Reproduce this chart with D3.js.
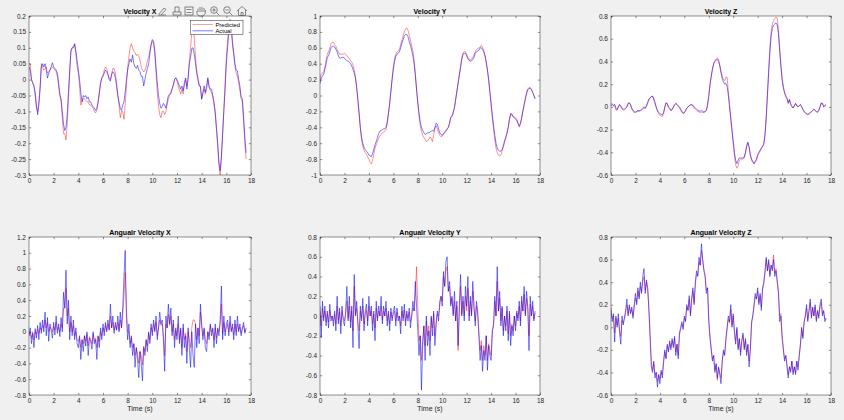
<!DOCTYPE html>
<html>
<head>
<meta charset="utf-8">
<script src="https://cdn.jsdelivr.net/npm/d3@7"></script>
<style>
  body { margin: 0; background: #f0f0f0; }
  svg { display: block; font-family: "Liberation Sans", Arial, sans-serif; }
</style>
</head>
<body>
<svg id="fig" width="844" height="420"></svg>
<script>
// Tempo de amostragem: 0 a 17.6 s, passo 0.1 s
const time = d3.range(177).map(i => i / 10);

// Velocity X
const velXPred = [
  0.05, 0.05, 0.00, -0.01, -0.02, -0.05, -0.09, -0.10, -0.07, -0.02,
  0.05, 0.04, 0.03, 0.035, 0.04, 0.02, 0.025, 0.03, 0.035, 0.04,
  0.035, 0.03, 0.025, 0.01, -0.02, -0.05, -0.07, -0.12, -0.17, -0.17,
  -0.19, -0.14, -0.06, 0.02, 0.09, 0.10, 0.105, 0.11, 0.08, 0.04,
  0.02, -0.02, -0.08, -0.07, -0.06, -0.06, -0.065, -0.07, -0.07, -0.08,
  -0.08, -0.085, -0.09, -0.10, -0.105, -0.095, -0.075, -0.045, -0.015, 0.005,
  0.015, 0.03, 0.04, 0.035, 0.02, 0.005, 0.00, 0.02, 0.035, 0.035,
  0.02, -0.01, -0.05, -0.08, -0.12, -0.10, -0.10, -0.125, -0.08, -0.02,
  0.04, 0.07, 0.10, 0.113, 0.10, 0.09, 0.085, 0.075, 0.08, 0.075,
  0.06, 0.04, 0.03, 0.024, 0.03, 0.04, 0.06, 0.07, 0.09, 0.11,
  0.12, 0.115, 0.08, 0.02, -0.04, -0.08, -0.11, -0.12, -0.10, -0.10,
  -0.11, -0.10, -0.08, -0.06, -0.05, -0.045, -0.03, -0.02, 0.00, 0.005,
  -0.005, -0.02, -0.035, -0.045, -0.03, -0.045, -0.02, 0.00, -0.02, 0.01,
  0.06, 0.10, 0.15, 0.17, 0.13, 0.07, 0.03, 0.005, -0.015, -0.025,
  -0.06, -0.045, -0.03, -0.045, -0.03, 0.00, -0.025, -0.035, -0.04, -0.055,
  -0.08, -0.11, -0.16, -0.21, -0.27, -0.30, -0.25, -0.17, -0.09, -0.01,
  0.07, 0.12, 0.16, 0.19, 0.17, 0.12, 0.08, 0.04, 0.02, 0.01,
  -0.01, -0.035, -0.06, -0.07, -0.13, -0.20, -0.25
];
const velXAct = [
  0.04, 0.03, 0.00, -0.01, -0.02, -0.04, -0.08, -0.11, -0.08, -0.03,
  0.04, 0.05, 0.04, 0.05, 0.03, 0.005, 0.02, 0.03, 0.04, 0.053,
  0.04, 0.035, 0.03, 0.02, -0.01, -0.045, -0.06, -0.10, -0.14, -0.16,
  -0.15, -0.11, -0.04, 0.03, 0.09, 0.10, 0.10, 0.113, 0.09, 0.06,
  0.03, 0.00, -0.04, -0.07, -0.05, -0.055, -0.05, -0.06, -0.055, -0.07,
  -0.07, -0.08, -0.085, -0.09, -0.097, -0.09, -0.07, -0.04, -0.01, 0.005,
  0.01, 0.02, 0.03, 0.025, 0.015, 0.00, -0.005, 0.015, 0.025, 0.02,
  0.005, -0.02, -0.05, -0.07, -0.09, -0.097, -0.08, -0.07, -0.04, 0.00,
  0.03, 0.05, 0.065, 0.055, 0.077, 0.05, 0.04, 0.035, 0.045, 0.03,
  0.025, 0.01, 0.01, -0.02, 0.00, 0.02, 0.035, 0.05, 0.08, 0.11,
  0.126, 0.12, 0.09, 0.04, -0.01, -0.05, -0.075, -0.09, -0.085, -0.075,
  -0.08, -0.09, -0.07, -0.05, -0.047, -0.04, -0.03, -0.015, 0.00, 0.006,
  0.00, -0.01, -0.02, -0.03, -0.02, -0.035, -0.01, 0.005, -0.03, 0.00,
  0.05, 0.07, 0.098, 0.10, 0.08, 0.05, 0.02, 0.00, -0.02, -0.02,
  -0.062, -0.04, -0.02, -0.04, -0.02, 0.006, -0.02, -0.03, -0.03, -0.05,
  -0.07, -0.10, -0.15, -0.20, -0.26, -0.286, -0.24, -0.17, -0.10, -0.03,
  0.05, 0.10, 0.15, 0.18, 0.16, 0.11, 0.082, 0.05, 0.03, 0.027,
  0.00, -0.02, -0.055, -0.06, -0.12, -0.18, -0.23
];

// Velocity Y
const velYPred = [
  0.20, 0.27, 0.28, 0.30, 0.36, 0.44, 0.52, 0.55, 0.60, 0.65,
  0.67, 0.67, 0.64, 0.62, 0.58, 0.55, 0.52, 0.52, 0.52, 0.52,
  0.53, 0.52, 0.50, 0.48, 0.46, 0.44, 0.42, 0.38, 0.32, 0.24,
  0.10, -0.06, -0.24, -0.42, -0.56, -0.64, -0.69, -0.72, -0.74, -0.77,
  -0.80, -0.84, -0.86, -0.82, -0.74, -0.66, -0.62, -0.58, -0.54, -0.51,
  -0.49, -0.47, -0.46, -0.45, -0.43, -0.36, -0.24, -0.10, 0.06, 0.22,
  0.36, 0.46, 0.52, 0.55, 0.56, 0.58, 0.64, 0.70, 0.75, 0.80,
  0.84, 0.85, 0.82, 0.76, 0.70, 0.62, 0.56, 0.45, 0.28, 0.08,
  -0.10, -0.25, -0.38, -0.45, -0.50, -0.53, -0.55, -0.58, -0.57, -0.55,
  -0.52, -0.54, -0.58, -0.50, -0.42, -0.38, -0.42, -0.47, -0.50, -0.52,
  -0.51, -0.49, -0.47, -0.45, -0.43, -0.40, -0.35, -0.27, -0.26, -0.20,
  -0.16, -0.05, 0.06, 0.17, 0.27, 0.37, 0.47, 0.54, 0.55, 0.55,
  0.52, 0.48, 0.45, 0.44, 0.46, 0.48, 0.51, 0.55, 0.58, 0.59,
  0.60, 0.61, 0.63, 0.61, 0.56, 0.50, 0.42, 0.32, 0.19, 0.04,
  -0.12, -0.28, -0.42, -0.55, -0.66, -0.72, -0.75, -0.76, -0.75, -0.70,
  -0.65, -0.59, -0.54, -0.48, -0.40, -0.30, -0.23, -0.23, -0.26, -0.27,
  -0.28, -0.30, -0.35, -0.40, -0.36, -0.28, -0.19, -0.11, -0.03, 0.04,
  0.08, 0.10, 0.10, 0.08, 0.04, 0.00, -0.04
];
const velYAct = [
  0.15, 0.22, 0.24, 0.27, 0.33, 0.40, 0.48, 0.50, 0.55, 0.60,
  0.62, 0.62, 0.61, 0.58, 0.55, 0.50, 0.47, 0.47, 0.48, 0.48,
  0.47, 0.45, 0.44, 0.43, 0.42, 0.40, 0.37, 0.33, 0.28, 0.22,
  0.10, -0.05, -0.22, -0.40, -0.52, -0.60, -0.65, -0.68, -0.70, -0.72,
  -0.75, -0.76, -0.77, -0.73, -0.68, -0.62, -0.58, -0.53, -0.48, -0.45,
  -0.44, -0.43, -0.42, -0.42, -0.40, -0.33, -0.22, -0.10, 0.05, 0.20,
  0.33, 0.43, 0.49, 0.52, 0.53, 0.55, 0.60, 0.66, 0.70, 0.75,
  0.77, 0.77, 0.74, 0.68, 0.63, 0.57, 0.50, 0.40, 0.25, 0.08,
  -0.08, -0.22, -0.33, -0.40, -0.44, -0.47, -0.49, -0.48, -0.47, -0.47,
  -0.46, -0.45, -0.44, -0.45, -0.40, -0.35, -0.36, -0.42, -0.47, -0.49,
  -0.50, -0.48, -0.46, -0.44, -0.42, -0.40, -0.35, -0.28, -0.26, -0.22,
  -0.15, -0.05, 0.05, 0.15, 0.25, 0.35, 0.45, 0.52, 0.53, 0.53,
  0.50, 0.46, 0.44, 0.43, 0.44, 0.45, 0.48, 0.53, 0.55, 0.56,
  0.57, 0.60, 0.60, 0.58, 0.55, 0.50, 0.42, 0.32, 0.20, 0.05,
  -0.10, -0.25, -0.38, -0.50, -0.60, -0.66, -0.69, -0.70, -0.70, -0.68,
  -0.63, -0.57, -0.52, -0.47, -0.40, -0.30, -0.23, -0.24, -0.27, -0.28,
  -0.30, -0.31, -0.35, -0.38, -0.35, -0.28, -0.20, -0.12, -0.05, 0.02,
  0.07, 0.09, 0.09, 0.07, 0.04, 0.00, -0.04
];

// Velocity Z
const velZPred = [
  0.02, 0.03, 0.01, 0.02, -0.03, -0.03, 0.00, 0.02, 0.00, -0.02,
  -0.03, -0.025, -0.015, 0.00, 0.03, 0.035, 0.015, -0.02, -0.04, -0.05,
  -0.05, -0.045, -0.04, -0.04, -0.035, -0.03, -0.02, -0.01, -0.015, 0.00,
  0.03, 0.06, 0.08, 0.09, 0.095, 0.065, 0.03, -0.01, -0.04, -0.06,
  -0.075, -0.08, -0.085, -0.06, -0.01, 0.035, 0.025, -0.005, -0.02, -0.035,
  -0.03, -0.01, 0.015, 0.03, 0.02, 0.005, -0.01, -0.03, -0.05, -0.06,
  -0.055, -0.035, -0.015, 0.00, 0.01, 0.015, 0.015, 0.01, -0.01, -0.02,
  -0.03, -0.04, -0.045, -0.05, -0.045, -0.05, -0.05, -0.045, -0.035, 0.01,
  0.09, 0.19, 0.27, 0.33, 0.38, 0.41, 0.42, 0.43, 0.42, 0.37,
  0.31, 0.27, 0.24, 0.23, 0.26, 0.26, 0.14, 0.02, -0.10, -0.22,
  -0.33, -0.43, -0.51, -0.54, -0.52, -0.47, -0.46, -0.46, -0.46, -0.45,
  -0.41, -0.35, -0.32, -0.36, -0.43, -0.47, -0.49, -0.50, -0.49, -0.47,
  -0.43, -0.41, -0.39, -0.37, -0.35, -0.32, -0.24, -0.08, 0.12, 0.33,
  0.52, 0.66, 0.73, 0.76, 0.78, 0.79, 0.78, 0.68, 0.52, 0.37,
  0.25, 0.18, 0.13, 0.10, 0.08, 0.04, 0.07, 0.03, 0.01, -0.01,
  0.01, 0.03, 0.015, 0.00, 0.01, 0.02, 0.00, -0.025, -0.045, -0.055,
  -0.065, -0.07, -0.065, -0.055, -0.045, -0.035, -0.025, -0.035, -0.045, -0.05,
  -0.035, -0.005, 0.03, 0.03, 0.00, 0.01, 0.02
];
const velZAct = [
  0.01, 0.02, 0.01, 0.02, -0.01, -0.024, 0.00, 0.02, 0.01, -0.01,
  -0.02, -0.02, -0.01, 0.00, 0.03, 0.035, 0.02, -0.01, -0.03, -0.04,
  -0.045, -0.04, -0.03, -0.035, -0.03, -0.02, -0.01, 0.00, -0.01, 0.01,
  0.04, 0.07, 0.08, 0.09, 0.094, 0.07, 0.04, 0.00, -0.03, -0.05,
  -0.06, -0.065, -0.07, -0.05, 0.00, 0.035, 0.03, 0.00, -0.01, -0.03,
  -0.02, 0.00, 0.02, 0.03, 0.02, 0.01, 0.00, -0.02, -0.04, -0.055,
  -0.05, -0.03, -0.01, 0.00, 0.01, 0.02, 0.02, 0.015, 0.00, -0.01,
  -0.02, -0.03, -0.035, -0.04, -0.03, -0.04, -0.045, -0.04, -0.03, 0.02,
  0.10, 0.20, 0.27, 0.33, 0.38, 0.40, 0.41, 0.42, 0.40, 0.36,
  0.30, 0.25, 0.22, 0.20, 0.206, 0.18, 0.10, 0.00, -0.10, -0.20,
  -0.30, -0.40, -0.47, -0.50, -0.47, -0.45, -0.45, -0.45, -0.45, -0.44,
  -0.40, -0.34, -0.31, -0.35, -0.42, -0.46, -0.48, -0.50, -0.48, -0.46,
  -0.42, -0.40, -0.38, -0.36, -0.35, -0.33, -0.25, -0.10, 0.10, 0.30,
  0.48, 0.62, 0.69, 0.72, 0.73, 0.74, 0.72, 0.64, 0.50, 0.36,
  0.24, 0.17, 0.12, 0.09, 0.07, 0.03, 0.06, 0.02, 0.00, -0.01,
  0.01, 0.03, 0.01, 0.00, 0.01, 0.02, 0.00, -0.02, -0.04, -0.05,
  -0.06, -0.065, -0.06, -0.05, -0.04, -0.03, -0.02, -0.03, -0.04, -0.045,
  -0.03, 0.00, 0.035, 0.03, 0.00, 0.01, 0.02
];

// Angualr Velocity X
const angXPred = [
  -0.05, 0.00, -0.08, 0.00, -0.10, 0.00, -0.03, 0.03, -0.02, 0.05,
  0.02, 0.08, 0.05, 0.15, 0.05, 0.12, 0.00, 0.06, 0.03, 0.00,
  0.07, 0.02, 0.12, 0.02, 0.06, 0.00, 0.10, 0.05, 0.30, 0.30,
  0.55, 0.20, 0.30, 0.00, 0.12, 0.00, 0.08, -0.05, 0.00, -0.10,
  -0.12, -0.08, -0.20, -0.10, -0.15, -0.05, -0.12, -0.03, -0.18, -0.06,
  -0.10, -0.15, -0.03, -0.12, -0.08, -0.20, -0.06, -0.12, 0.00, -0.05,
  0.05, 0.00, 0.08, 0.02, 0.10, 0.03, 0.20, 0.05, 0.12, 0.02,
  0.08, 0.03, 0.12, 0.02, 0.15, 0.05, 0.20, 0.45, 0.75, 0.30,
  0.00, 0.00, -0.15, -0.08, -0.20, -0.15, -0.30, -0.20, -0.28, -0.40,
  -0.25, -0.30, -0.42, -0.18, -0.25, -0.10, -0.18, -0.02, -0.10, 0.05,
  0.00, 0.10, 0.02, 0.12, -0.05, 0.05, 0.15, 0.08, 0.10, -0.05,
  -0.30, 0.10, 0.05, 0.22, 0.08, 0.20, 0.00, 0.10, -0.10, 0.02,
  -0.05, 0.10, -0.10, 0.02, -0.20, 0.05, -0.10, -0.02, -0.25, 0.00,
  -0.10, -0.20, 0.05, 0.15, 0.15, 0.10, -0.10, 0.05, -0.05, 0.25,
  0.08, -0.05, 0.03, -0.10, -0.15, 0.00, -0.05, 0.08, 0.00, 0.03,
  -0.10, 0.05, -0.08, 0.03, 0.00, 0.10, 0.35, -0.03, 0.12, 0.00,
  0.05, 0.10, 0.00, 0.12, 0.02, 0.06, -0.04, 0.10, 0.00, 0.10,
  0.02, 0.06, -0.02, 0.03, 0.08, 0.00, 0.03
];
const angXAct = [
  -0.05, 0.05, -0.15, -0.02, -0.20, 0.04, -0.08, 0.08, -0.10, 0.12,
  -0.02, 0.15, 0.00, 0.25, -0.05, 0.18, -0.12, 0.10, 0.02, -0.08,
  0.12, -0.04, 0.20, -0.02, 0.10, -0.06, 0.18, 0.00, 0.50, 0.30,
  0.78, 0.10, 0.40, -0.10, 0.20, -0.05, 0.15, -0.10, 0.05, -0.15,
  -0.20, -0.05, -0.35, -0.10, -0.25, -0.05, -0.18, 0.00, -0.30, -0.08,
  -0.12, -0.22, 0.00, -0.15, -0.10, -0.35, -0.05, -0.20, 0.05, -0.10,
  0.10, -0.05, 0.12, 0.00, 0.15, 0.02, 0.35, 0.05, 0.20, -0.02,
  0.12, 0.02, 0.20, 0.00, 0.25, 0.05, 0.30, 0.70, 1.03, 0.20,
  -0.10, 0.10, -0.20, -0.05, -0.30, -0.15, -0.45, -0.20, -0.35, -0.58,
  -0.25, -0.40, -0.62, -0.20, -0.30, -0.10, -0.25, 0.00, -0.15, 0.10,
  -0.05, 0.15, 0.00, 0.20, -0.10, 0.05, 0.25, 0.10, 0.15, -0.10,
  -0.50, 0.20, 0.05, 0.35, 0.10, 0.30, -0.05, 0.15, -0.20, 0.05,
  -0.10, 0.20, -0.15, 0.05, -0.30, 0.10, -0.20, -0.05, -0.40, 0.05,
  -0.20, -0.45, 0.00, -0.30, -0.45, 0.10, -0.20, 0.05, -0.15, 0.35,
  0.10, -0.10, 0.05, -0.20, -0.25, 0.00, -0.10, 0.10, -0.05, 0.05,
  -0.20, 0.10, -0.15, 0.05, -0.05, 0.15, 0.58, -0.10, 0.20, -0.05,
  0.10, 0.15, -0.05, 0.20, 0.00, 0.10, -0.10, 0.15, -0.05, 0.20,
  0.00, 0.10, -0.05, 0.05, 0.12, -0.02, 0.05
];

// Angualr Velocity Y
const angYPred = [
  0.05, -0.10, 0.08, -0.02, 0.05, -0.06, 0.02, -0.06, 0.06, -0.02,
  0.00, -0.05, 0.02, -0.08, 0.10, -0.04, 0.04, -0.10, 0.05, -0.02,
  -0.05, 0.02, 0.15, -0.02, 0.10, -0.06, 0.05, -0.15, 0.30, 0.02,
  0.08, -0.05, -0.15, 0.05, -0.02, 0.10, -0.08, 0.02, 0.06, -0.05,
  0.10, 0.00, 0.05, -0.08, 0.02, -0.12, 0.08, -0.02, 0.05, 0.00,
  0.10, -0.04, 0.05, 0.00, 0.08, -0.05, 0.02, -0.08, 0.04, -0.02,
  0.02, 0.05, -0.05, 0.04, -0.02, 0.00, -0.10, 0.05, -0.02, 0.06,
  -0.05, 0.02, -0.02, 0.04, -0.06, 0.00, 0.08, 0.05, 0.20, 0.50,
  0.10, -0.25, -0.20, -0.45, -0.25, -0.10, -0.30, -0.05, -0.20, -0.10,
  -0.25, -0.02, -0.12, 0.02, -0.20, -0.05, 0.02, 0.00, 0.10, 0.20,
  0.15, 0.40, 0.30, 0.45, 0.50, 0.25, 0.30, 0.12, 0.18, 0.02,
  0.15, -0.05, 0.10, -0.35, 0.05, 0.30, 0.02, 0.15, 0.00, 0.20,
  0.05, 0.28, 0.00, 0.15, 0.02, 0.25, 0.08, -0.05, 0.10, 0.02,
  -0.15, -0.35, -0.25, -0.45, -0.30, -0.40, -0.20, -0.45, -0.28, -0.35,
  -0.40, -0.15, -0.08, 0.15, 0.00, 0.35, 0.05, 0.18, -0.05, 0.08,
  -0.15, 0.00, -0.10, 0.05, -0.18, 0.02, -0.20, -0.08, -0.15, 0.00,
  -0.10, 0.03, -0.02, 0.10, -0.05, 0.15, 0.05, 0.22, 0.02, 0.18,
  0.08, -0.20, 0.12, 0.00, 0.10, -0.03, 0.03
];
const angYAct = [
  0.10, -0.22, 0.15, -0.05, 0.10, -0.10, 0.05, -0.12, 0.12, -0.05,
  0.00, -0.10, 0.05, -0.15, 0.20, -0.08, 0.08, -0.18, 0.10, -0.05,
  -0.10, 0.05, 0.30, -0.05, 0.20, -0.12, 0.10, -0.32, 0.42, 0.00,
  0.15, -0.10, -0.33, 0.10, -0.05, 0.18, -0.15, 0.05, 0.12, -0.10,
  0.20, 0.00, 0.10, -0.15, 0.05, -0.25, 0.15, -0.05, 0.10, 0.00,
  0.20, -0.08, 0.10, 0.00, 0.15, -0.10, 0.05, -0.15, 0.08, -0.05,
  0.05, 0.10, -0.10, 0.08, -0.05, 0.00, -0.18, 0.10, -0.05, 0.12,
  -0.10, 0.05, -0.05, 0.08, -0.12, 0.00, 0.15, 0.05, 0.35, 0.10,
  -0.15, -0.40, -0.20, -0.75, -0.30, -0.10, -0.45, 0.00, -0.30, -0.15,
  -0.40, 0.00, -0.20, 0.05, -0.30, -0.10, 0.05, -0.05, 0.15, 0.20,
  0.10, 0.45, 0.30, 0.55, 0.60, 0.25, 0.35, 0.10, 0.20, 0.00,
  0.25, -0.05, 0.15, -0.30, 0.10, 0.42, 0.00, 0.20, -0.05, 0.30,
  0.10, 0.40, -0.05, 0.20, 0.00, 0.35, 0.10, -0.10, 0.15, 0.05,
  -0.20, -0.45, -0.30, -0.56, -0.35, -0.45, -0.20, -0.55, -0.30, -0.40,
  -0.45, -0.15, -0.10, 0.20, 0.00, 0.50, 0.05, 0.25, -0.10, 0.10,
  -0.20, 0.00, -0.15, 0.10, -0.25, 0.05, -0.30, -0.10, -0.20, 0.00,
  -0.15, 0.05, -0.05, 0.15, -0.10, 0.20, 0.05, 0.30, 0.00, 0.25,
  0.10, -0.35, 0.20, 0.00, 0.15, -0.05, 0.05
];

// Angualr Velocity Z
const angZPred = [
  0.18, 0.08, 0.10, -0.05, 0.08, 0.02, 0.08, -0.02, -0.08, 0.06,
  0.04, 0.08, 0.13, 0.20, 0.12, 0.18, 0.13, 0.16, 0.10, 0.18,
  0.26, 0.22, 0.32, 0.27, 0.36, 0.32, 0.40, 0.45, 0.33, 0.40,
  0.34, 0.18, -0.05, -0.30, -0.38, -0.32, -0.42, -0.40, -0.48, -0.42,
  -0.46, -0.40, -0.42, -0.32, -0.22, -0.27, -0.17, -0.20, -0.14, -0.18,
  -0.12, -0.16, -0.10, -0.22, -0.15, -0.25, -0.07, -0.02, 0.03, 0.00,
  0.08, 0.06, 0.18, 0.15, 0.25, 0.12, 0.24, 0.32, 0.22, 0.38,
  0.47, 0.46, 0.58, 0.55, 0.68, 0.60, 0.52, 0.46, 0.33, 0.35,
  0.08, -0.08, -0.18, -0.28, -0.25, -0.38, -0.33, -0.47, -0.36, -0.40,
  -0.45, -0.30, -0.22, -0.24, -0.12, -0.02, 0.07, 0.04, 0.16, 0.02,
  0.10, -0.03, -0.12, -0.02, -0.18, -0.10, -0.22, -0.12, -0.07, -0.18,
  -0.12, -0.22, -0.16, -0.30, -0.20, 0.02, 0.10, 0.18, 0.27, 0.25,
  0.32, 0.22, 0.28, 0.18, 0.33, 0.38, 0.48, 0.60, 0.50, 0.58,
  0.47, 0.55, 0.52, 0.64, 0.48, 0.52, 0.42, 0.32, 0.10, 0.12,
  -0.06, -0.18, -0.28, -0.25, -0.33, -0.42, -0.35, -0.38, -0.30, -0.40,
  -0.35, -0.40, -0.30, -0.35, -0.26, -0.15, -0.02, -0.08, 0.04, 0.10,
  0.17, 0.07, 0.14, 0.22, 0.10, 0.17, 0.10, 0.18, 0.07, 0.14,
  0.10, 0.18, 0.22, 0.12, 0.14, 0.07, 0.08
];
const angZAct = [
  0.15, 0.05, 0.12, -0.13, 0.10, 0.00, 0.12, -0.05, -0.15, 0.10,
  0.02, 0.08, 0.15, 0.25, 0.10, 0.20, 0.12, 0.18, 0.08, 0.20,
  0.30, 0.20, 0.35, 0.25, 0.40, 0.30, 0.45, 0.52, 0.30, 0.42,
  0.35, 0.15, -0.10, -0.35, -0.40, -0.30, -0.45, -0.40, -0.53, -0.42,
  -0.50, -0.38, -0.45, -0.30, -0.20, -0.28, -0.15, -0.22, -0.12, -0.20,
  -0.10, -0.18, -0.08, -0.25, -0.15, -0.28, -0.05, 0.00, 0.05, -0.02,
  0.10, 0.05, 0.20, 0.15, 0.28, 0.10, 0.25, 0.35, 0.20, 0.40,
  0.50, 0.45, 0.62, 0.55, 0.74, 0.60, 0.50, 0.45, 0.30, 0.35,
  0.05, -0.10, -0.20, -0.30, -0.25, -0.40, -0.32, -0.45, -0.35, -0.42,
  -0.50, -0.30, -0.20, -0.25, -0.10, 0.00, 0.10, 0.05, 0.20, 0.00,
  0.12, -0.05, -0.15, 0.00, -0.20, -0.10, -0.25, -0.12, -0.05, -0.20,
  -0.10, -0.25, -0.15, -0.35, -0.20, 0.05, 0.10, 0.20, 0.30, 0.25,
  0.35, 0.20, 0.30, 0.15, 0.35, 0.40, 0.50, 0.62, 0.50, 0.60,
  0.45, 0.55, 0.50, 0.60, 0.45, 0.50, 0.40, 0.30, 0.05, 0.10,
  -0.10, -0.20, -0.30, -0.25, -0.35, -0.45, -0.35, -0.40, -0.30, -0.42,
  -0.35, -0.42, -0.30, -0.38, -0.25, -0.15, 0.00, -0.10, 0.05, 0.10,
  0.20, 0.05, 0.15, 0.25, 0.08, 0.18, 0.10, 0.20, 0.05, 0.15,
  0.08, 0.20, 0.25, 0.10, 0.15, 0.05, 0.08
];

// Configuração dos painéis (box = [x0, y0, x1, y1] em pixels)
const paineis = [
  { titulo: "Velocity X", pred: velXPred, real: velXAct, yDom: [-0.3, 0.2], passo: 0.05, box: [29, 16, 251, 175], legenda: true },
  { titulo: "Velocity Y", pred: velYPred, real: velYAct, yDom: [-1, 1], passo: 0.2, box: [320, 16, 540, 175] },
  { titulo: "Velocity Z", pred: velZPred, real: velZAct, yDom: [-0.6, 0.8], passo: 0.2, box: [611, 16, 831, 175] },
  { titulo: "Angualr Velocity X", pred: angXPred, real: angXAct, yDom: [-0.8, 1.2], passo: 0.2, box: [29, 237, 251, 395], xlabel: true },
  { titulo: "Angualr Velocity Y", pred: angYPred, real: angYAct, yDom: [-0.8, 0.8], passo: 0.2, box: [320, 237, 540, 395], xlabel: true },
  { titulo: "Angualr Velocity Z", pred: angZPred, real: angZAct, yDom: [-0.6, 0.8], passo: 0.2, box: [611, 237, 831, 395], xlabel: true }
];

const corEixo = "#262626";
const svg = d3.select("#fig");

paineis.forEach((p, k) => {
  const [x0, y0, x1, y1] = p.box;
  const x = d3.scaleLinear().domain([0, 18]).range([x0, x1]);
  const y = d3.scaleLinear().domain(p.yDom).range([y1, y0]);

  const nTicks = Math.round((p.yDom[1] - p.yDom[0]) / p.passo);
  const yTicks = d3.range(nTicks + 1).map(i => +(p.yDom[0] + i * p.passo).toFixed(2));
  const xTicks = d3.range(0, 19, 2);

  const g = svg.append("g");

  g.append("rect")
    .attr("x", x0).attr("y", y0)
    .attr("width", x1 - x0).attr("height", y1 - y0)
    .attr("fill", "#fff");

  // Linhas com recorte na área do gráfico
  g.append("clipPath").attr("id", "clip" + k)
    .append("rect")
    .attr("x", x0).attr("y", y0)
    .attr("width", x1 - x0).attr("height", y1 - y0);

  const linha = d3.line()
    .x((d, i) => x(time[i]))
    .y(d => y(d));

  const area = g.append("g").attr("clip-path", `url(#clip${k})`);
  area.append("path")
    .datum(p.pred)
    .attr("d", linha)
    .attr("fill", "none")
    .attr("stroke", "#ff0000")
    .attr("stroke-opacity", 0.55)
    .attr("stroke-width", 0.8);
  area.append("path")
    .datum(p.real)
    .attr("d", linha)
    .attr("fill", "none")
    .attr("stroke", "#0000ff")
    .attr("stroke-opacity", 0.75)
    .attr("stroke-width", 0.7);

  // Eixos com ticks para dentro (estilo MATLAB)
  const estilo = sel => {
    sel.select(".domain").remove();
    sel.selectAll("line").attr("stroke", corEixo).attr("stroke-width", 0.5);
    sel.selectAll("text").attr("fill", corEixo).style("font-size", "6.5px");
  };

  g.append("g").attr("transform", `translate(${x0},0)`)
    .call(d3.axisLeft(y).tickValues(yTicks).tickSize(-2.2).tickPadding(3).tickFormat(d => String(d)))
    .call(estilo);
  g.append("g").attr("transform", `translate(${x1},0)`)
    .call(d3.axisRight(y).tickValues(yTicks).tickSize(-2.2).tickFormat(""))
    .call(estilo);
  g.append("g").attr("transform", `translate(0,${y1})`)
    .call(d3.axisBottom(x).tickValues(xTicks).tickSize(-2.2).tickPadding(3).tickFormat(d => String(d)))
    .call(estilo);
  g.append("g").attr("transform", `translate(0,${y0})`)
    .call(d3.axisTop(x).tickValues(xTicks).tickSize(-2.2).tickFormat(""))
    .call(estilo);

  g.append("rect")
    .attr("x", x0).attr("y", y0)
    .attr("width", x1 - x0).attr("height", y1 - y0)
    .attr("fill", "none")
    .attr("stroke", corEixo)
    .attr("stroke-width", 0.5);

  // Título
  g.append("text")
    .attr("x", (x0 + x1) / 2).attr("y", y0 - 2.5)
    .attr("text-anchor", "middle")
    .attr("font-weight", "bold")
    .attr("fill", "#000")
    .style("font-size", "7px")
    .text(p.titulo);

  if (p.xlabel) {
    g.append("text")
      .attr("x", (x0 + x1) / 2).attr("y", y1 + 16)
      .attr("text-anchor", "middle")
      .attr("fill", corEixo)
      .style("font-size", "7px")
      .text("Time (s)");
  }

  if (p.legenda) {
    const lg = g.append("g").attr("transform", `translate(${x1 - 60.5},${y0 + 4.5})`);
    lg.append("rect")
      .attr("width", 52.5).attr("height", 14)
      .attr("fill", "#fff")
      .attr("stroke", corEixo)
      .attr("stroke-width", 0.5);
    const itens = [["Predicted", "#ff0000", 0.55], ["Actual", "#0000ff", 0.75]];
    itens.forEach(([nome, cor, op], i) => {
      const yy = 4 + i * 6.3;
      lg.append("line")
        .attr("x1", 2).attr("x2", 22.5)
        .attr("y1", yy).attr("y2", yy)
        .attr("stroke", cor).attr("stroke-opacity", op)
        .attr("stroke-width", 0.7);
      lg.append("text")
        .attr("x", 25).attr("y", yy + 2)
        .attr("fill", "#000")
        .style("font-size", "5.8px")
        .text(nome);
    });
  }
});

// Barra de ferramentas do MATLAB (ícones simples)
const tb = svg.append("g")
  .attr("fill", "none")
  .attr("stroke", "#555")
  .attr("stroke-width", 0.7);
// editar
tb.append("path").attr("d", "M158,15 L166,15 M159,14 L164,8 L166,9.5 L161,15");
// imprimir
tb.append("path").attr("d", "M173,15 L181,15 L181,12 L173,12 Z M175,12 L175,7 L179,7 L179,12");
// legenda
tb.append("rect").attr("x", 185).attr("y", 7).attr("width", 8).attr("height", 8);
tb.append("path").attr("d", "M186.5,9.5 L191.5,9.5 M186.5,12.5 L191.5,12.5");
// mão
tb.append("path").attr("d", "M198,12 L198,8.5 M200,12 L200,7 M202,12 L202,7 M204,12 L204,8 M197,11 Q196,14 199,16 L203,16 Q206,14 205.5,10");
// zoom +
tb.append("circle").attr("cx", 214).attr("cy", 10).attr("r", 3.3);
tb.append("path").attr("d", "M216.4,12.4 L219.5,15.5 M212.3,10 L215.7,10 M214,8.3 L214,11.7");
// zoom -
tb.append("circle").attr("cx", 227).attr("cy", 10).attr("r", 3.3);
tb.append("path").attr("d", "M229.4,12.4 L232.5,15.5 M225.3,10 L228.7,10");
// casa
tb.append("path").attr("d", "M237,11 L242,6.5 L247,11 M238.5,10 L238.5,15.5 L245.5,15.5 L245.5,10 M241,15.5 L241,12.5 L243,12.5 L243,15.5");
</script>
</body>
</html>
